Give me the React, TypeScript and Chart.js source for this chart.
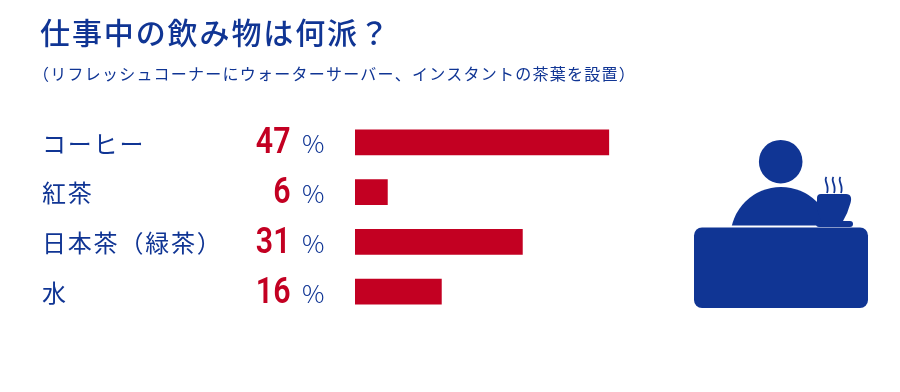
import React, { useEffect, useRef } from "react";
import { Chart, registerables } from "chart.js";

Chart.register(...registerables);

const TITLE = "仕事中の飲み物は何派？";
const SUBTITLE = "（リフレッシュコーナーにウォーターサーバー、インスタントの茶葉を設置）";
const categories = ["コーヒー", "紅茶", "日本茶（緑茶）", "水"];
const shares = [47, 6, 31, 16];
const UNIT = "%";

const NAVY = "#103594";
const RED = "#C30022";
const JP = '"Noto Sans CJK JP", "Noto Sans", sans-serif';

const drawText = {
  id: "drawText",
  beforeDraw(chart: any) {
    const ctx = chart.ctx;
    ctx.save();
    ctx.fillStyle = NAVY;
    ctx.textAlign = "left";
    ctx.textBaseline = "alphabetic";
    ctx.font = `500 30px ${JP}`;
    (ctx as any).letterSpacing = "1.9px";
    ctx.fillText(TITLE, 40, 44);
    ctx.font = `400 16px ${JP}`;
    (ctx as any).letterSpacing = "1.23px";
    ctx.fillText(SUBTITLE, 33, 80);
    ctx.restore();
    (ctx as any).letterSpacing = "1.8px";
  },
  afterDatasetsDraw(chart: any) {
    const ctx = chart.ctx;
    (ctx as any).letterSpacing = "0px";
    const yScale = chart.scales.y;
    shares.forEach((v, i) => {
      const y = yScale.getPixelForValue(i);
      ctx.save();
      ctx.fillStyle = RED;
      ctx.textBaseline = "alphabetic";
      ctx.textAlign = "right";
      ctx.font = `600 37px Roboto, sans-serif`;
      ctx.translate(290.5, y + 11);
      ctx.scale(0.82, 1);
      ctx.fillText(String(v), 0, 0);
      ctx.restore();
      ctx.save();
      ctx.fillStyle = NAVY;
      ctx.textAlign = "left";
      ctx.textBaseline = "alphabetic";
      ctx.font = `300 25px ${JP}`;
      ctx.fillText(UNIT, 302, y + 11);
      ctx.restore();
    });
    drawIcon(ctx);
  },
};

function drawIcon(ctx: CanvasRenderingContext2D) {
  ctx.save();
  ctx.fillStyle = "#103594";
  ctx.strokeStyle = "#103594";
  // head
  ctx.beginPath();
  ctx.arc(780.7, 161.7, 21.8, 0, Math.PI * 2);
  ctx.fill();
  // shoulders
  ctx.save();
  ctx.beginPath();
  ctx.rect(720, 180, 120, 45.5);
  ctx.clip();
  ctx.beginPath();
  ctx.arc(781, 237.6, 50.6, 0, Math.PI * 2);
  ctx.fill();
  ctx.restore();
  // desk
  ctx.beginPath();
  ctx.roundRect(694, 227.5, 174, 80.5, 8);
  ctx.fill();
  // saucer
  ctx.beginPath();
  ctx.roundRect(816, 221, 37, 6, 3);
  ctx.fill();
  // cup
  ctx.beginPath();
  ctx.moveTo(821, 194);
  ctx.lineTo(846, 194);
  ctx.bezierCurveTo(851, 194, 852, 198, 850.5, 203);
  ctx.quadraticCurveTo(848, 213, 842, 223);
  ctx.lineTo(822, 223);
  ctx.lineTo(817, 210);
  ctx.lineTo(817, 198);
  ctx.quadraticCurveTo(817, 194, 821, 194);
  ctx.closePath();
  ctx.fill();
  // steam
  ctx.lineWidth = 1.8;
  for (const x of [827, 834, 841]) {
    ctx.beginPath();
    ctx.moveTo(x - 0.5, 177);
    ctx.bezierCurveTo(x - 4, 181, x + 3, 185, x, 193);
    ctx.stroke();
  }
  ctx.restore();
}

export default function App() {
  const ref = useRef<HTMLCanvasElement>(null);
  useEffect(() => {
    document.body.style.margin = "0";
    document.body.style.background = "#ffffff";
    const chart = new Chart(ref.current!, {
      type: "bar",
      data: {
        labels: categories,
        datasets: [
          {
            data: shares,
            backgroundColor: RED,
            borderWidth: 0,
            barThickness: 25,
          },
        ],
      },
      options: {
        indexAxis: "y",
        animation: false,
        responsive: false,
        layout: { padding: { left: 42, right: 5, top: 117.5, bottom: 75.5 } },
        plugins: { legend: { display: false }, tooltip: { enabled: false } },
        scales: {
          x: { display: false, min: 0, max: 100, grid: { display: false } },
          y: {
            grid: { display: false, drawTicks: false },
            border: { display: false },
            afterFit(scale: any) {
              scale.width = 313;
            },
            ticks: {
              crossAlign: "far",
              color: NAVY,
              padding: 0,
              labelOffset: 1,
              font: { family: JP, size: 24, weight: "400" },
            },
          },
        },
      },
      plugins: [drawText],
    } as any);
    return () => chart.destroy();
  }, []);
  return (
    <canvas
      ref={ref}
      width={900}
      height={392}
      style={{ display: "block", width: 900, height: 392 }}
    />
  );
}
